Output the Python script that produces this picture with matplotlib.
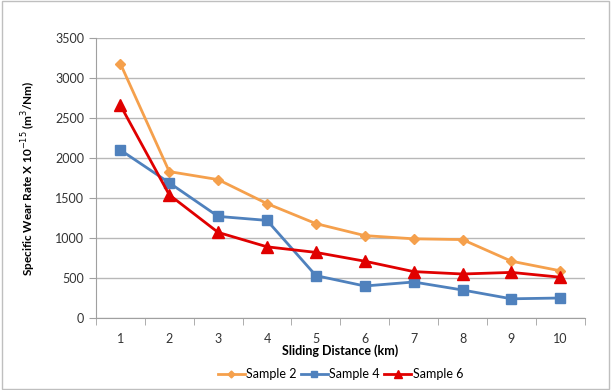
import matplotlib.pyplot as plt
import numpy as np

distance = [1, 2, 3, 4, 5, 6, 7, 8, 9, 10]
sample2 = [3180, 1830, 1730, 1430, 1180, 1030, 990, 980, 710, 590]
sample4 = [2100, 1690, 1270, 1220, 530, 400, 450, 350, 240, 250]
sample6 = [2660, 1540, 1070, 890, 820, 710, 580, 550, 570, 510]

plt.rcParams['font.family'] = ['Lato', 'DejaVu Sans']

fig = plt.figure(figsize=(6.11, 3.90), dpi=100)
ax = fig.add_axes([0.157, 0.1846, 0.80, 0.718])

x = np.arange(len(distance))
ax.plot(x, sample2, color='#F5A04C', marker='D', markersize=5, lw=2, label='Sample 2', zorder=3)
ax.plot(x, sample4, color='#4F81BD', marker='s', markersize=7, lw=2, label='Sample 4', zorder=3)
ax.plot(x, sample6, color='#E00000', marker='^', markersize=8, lw=2, label='Sample 6', zorder=4)

ax.set_xlim(-0.5, len(distance) - 0.5)
ax.set_ylim(0, 3500)
ax.set_yticks(np.arange(0, 3501, 500))
ax.set_xticks(x)
ax.set_xticklabels([str(d) for d in distance])
ax.set_xticks(np.arange(-0.5, len(distance), 1), minor=True)
ax.tick_params(axis='x', which='major', length=0, pad=11, labelsize=9, colors='#333333')
ax.tick_params(axis='x', which='minor', length=5, color='#A0A0A0', direction='out')
ax.tick_params(axis='y', length=5, color='#A0A0A0', labelsize=9, labelcolor='#333333')

ax.grid(axis='y', color='#B8B8B8', lw=1)
ax.set_axisbelow(True)
for s in ['top', 'right']:
    ax.spines[s].set_visible(False)
for s in ['left', 'bottom']:
    ax.spines[s].set_color('#A0A0A0')

ax.set_xlabel('Sliding Distance (km)', fontsize=9, fontweight='bold', labelpad=-1)
ax.set_ylabel('Specific Wear Rate X 10$^{-15}$ (m$^{3}$/Nm)', fontsize=8.5, fontweight='bold', labelpad=12)

ax.legend(loc='upper center', bbox_to_anchor=(0.5, -0.14), ncol=3, frameon=False,
          fontsize=9, handlelength=2.2, handletextpad=0.1, columnspacing=0.3, markerscale=0.7)

fig.patches.append(plt.Rectangle((0.003, 0.003), 0.994, 0.994, transform=fig.transFigure,
                                 fill=False, edgecolor='#BFBFBF', lw=1))

fig.savefig('out.png', dpi=100)
